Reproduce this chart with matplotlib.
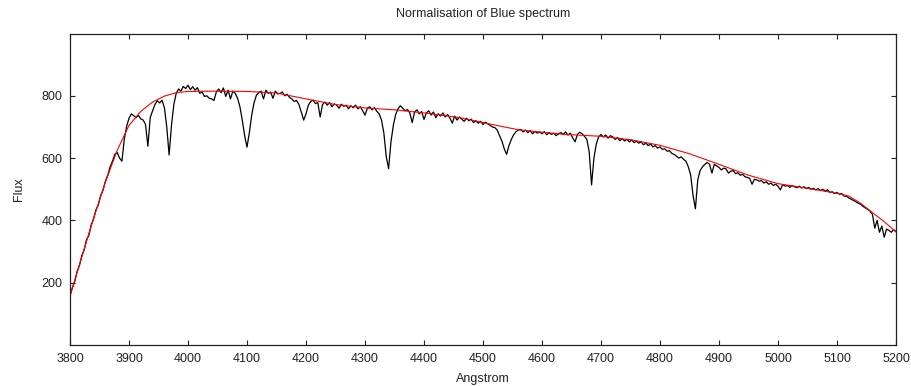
import numpy as np
from matplotlib import pyplot as plt

plt.rcParams['font.family'] = ['Liberation Sans', 'DejaVu Sans']

# continuum fit (red)
contWave = [3800, 3820, 3840, 3860, 3880, 3900, 3920, 3940, 3960, 3980,
            4000, 4050, 4100, 4150, 4200, 4250, 4300, 4350, 4410, 4460,
            4510, 4560, 4600, 4640, 4700, 4750, 4800, 4850, 4900, 4950,
            5000, 5050, 5100, 5120, 5140, 5160, 5180, 5200]
contFlux = [157, 283, 407, 523, 625, 705, 750, 780, 799, 810,
            814, 815, 814, 809, 790, 772, 761, 755, 743, 730,
            710, 691, 683, 676, 670, 659, 641, 614, 580, 545,
            518, 503, 487, 478, 455, 425, 396, 363]

# observed spectrum (black), sampled every 4 Angstrom from 3800
specStart = 3800
specStep = 4
specFlux = [
    158, 184, 203, 236, 255, 287, 305, 338, 352, 386,   # 3800
    405, 434, 450, 480, 497, 526, 545, 572, 590, 612,   # 3840
    618, 600, 590, 660, 702, 728, 742, 736, 730, 737,   # 3880
    726, 722, 708, 638, 730, 752, 772, 784, 777, 786,   # 3920
    762, 700, 610, 705, 772, 808, 822, 815, 830, 823,   # 3960
    834, 820, 829, 818, 826, 808, 812, 798, 800, 792,   # 4000
    790, 785, 812, 822, 810, 825, 798, 818, 790, 815,   # 4040
    808, 792, 765, 722, 672, 635, 682, 738, 778, 802,   # 4080
    810, 815, 790, 818, 808, 812, 792, 815, 806, 808,   # 4120
    812, 800, 805, 795, 790, 782, 785, 772, 748, 722,   # 4160
    742, 770, 782, 786, 775, 778, 732, 772, 780, 770,   # 4200
    778, 765, 774, 770, 760, 773, 766, 770, 758, 768,   # 4240
    762, 770, 758, 765, 752, 738, 760, 765, 755, 762,   # 4280
    750, 742, 722, 680, 605, 566, 652, 705, 740, 758,   # 4320
    768, 760, 752, 756, 745, 714, 748, 755, 742, 750,   # 4360
    724, 745, 752, 738, 748, 730, 742, 735, 745, 732,   # 4400
    740, 728, 712, 735, 722, 732, 725, 718, 728, 720,   # 4440
    725, 714, 720, 712, 718, 708, 715, 710, 705, 700,   # 4480
    698, 690, 672, 655, 630, 612, 640, 660, 675, 685,   # 4520
    690, 692, 684, 690, 682, 688, 678, 686, 680, 684,   # 4560
    678, 685, 675, 682, 676, 680, 672, 678, 682, 676,   # 4600
    684, 674, 680, 665, 652, 676, 683, 678, 670, 660,   # 4640
    620, 514, 600, 645, 668, 676, 668, 674, 664, 672,   # 4680
    668, 660, 666, 656, 662, 655, 660, 652, 658, 650,   # 4720
    654, 648, 652, 643, 648, 640, 645, 636, 640, 632,   # 4760
    636, 628, 630, 622, 624, 615, 612, 606, 600, 604,   # 4800
    596, 590, 572, 545, 480, 437, 530, 560, 572, 580,   # 4840
    586, 580, 552, 580, 575, 570, 562, 568, 565, 552,   # 4880
    558, 560, 550, 553, 545, 548, 540, 538, 535, 516,   # 4920
    532, 530, 526, 528, 520, 524, 516, 520, 512, 516,   # 4960
    510, 498, 515, 510, 512, 506, 512, 508, 505, 510,   # 5000
    504, 508, 502, 506, 500, 503, 498, 502, 496, 500,   # 5040
    494, 498, 490, 492, 486, 490, 484, 486, 478, 478,   # 5080
    472, 468, 464, 460, 455, 452, 445, 440, 436, 430,   # 5120
    420, 375, 400, 362, 382, 346, 372, 368, 362, 370,   # 5160
    365,                                                # 5200
]
specWave = specStart + specStep * np.arange(len(specFlux))

xTicks = list(range(3800, 5201, 100))
yTicks = [200, 400, 600, 800]

fig = plt.figure(figsize=(9.11, 3.86), dpi=100)
ax = fig.add_axes([70 / 911, 41 / 386, 826 / 911, 311.5 / 386])

ax.plot(specWave, specFlux, color='black', linewidth=0.9)
ax.plot(contWave, contFlux, color='#ff0000', linewidth=0.8)

ax.set_xlim(3800, 5200)
ax.set_ylim(0, 1000)
ax.set_xticks(xTicks)
ax.set_yticks(yTicks)

ax.tick_params(direction='in', length=3.6, width=0.8, top=True, right=True,
               labelsize=9, pad=5.5, colors='#222222')
for s in ax.spines.values():
    s.set_linewidth(0.9)
    s.set_color('#222222')

ax.set_title("Normalisation of Blue spectrum", fontsize=9, color='#222222', pad=12)
ax.set_xlabel("Angstrom", fontsize=9, color='#222222', labelpad=6)
ax.set_ylabel("Flux", fontsize=9, color='#222222', labelpad=12)

fig.savefig("out.png", dpi=100)
